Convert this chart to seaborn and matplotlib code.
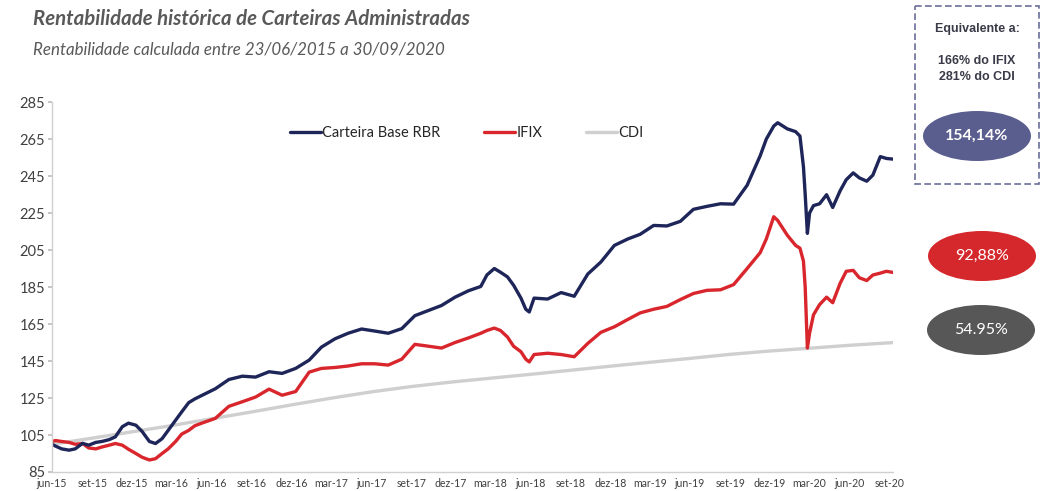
import matplotlib
matplotlib.use('Agg')
import matplotlib.pyplot as plt
from matplotlib.patches import Ellipse, Rectangle
import pandas as pd
import seaborn as sns

# dates shared by the portfolio and IFIX series
datas = ['2015-06-23', '2015-07-01', '2015-07-15', '2015-08-01', '2015-08-15',
         '2015-09-01', '2015-09-15', '2015-10-01', '2015-10-15', '2015-11-01',
         '2015-11-15', '2015-12-01', '2015-12-15', '2016-01-01', '2016-01-15',
         '2016-02-01', '2016-02-15', '2016-03-01', '2016-03-15', '2016-04-01',
         '2016-04-15', '2016-05-01', '2016-05-15', '2016-06-01', '2016-07-01',
         '2016-08-01', '2016-09-01', '2016-10-01', '2016-11-01', '2016-12-01',
         '2017-01-01', '2017-02-01', '2017-03-01', '2017-04-01', '2017-05-01',
         '2017-06-01', '2017-07-01', '2017-08-01', '2017-09-01', '2017-10-01',
         '2017-11-01', '2017-12-01', '2018-01-01', '2018-02-01', '2018-03-01',
         '2018-03-15', '2018-04-01', '2018-04-15', '2018-05-01', '2018-05-15',
         '2018-06-01', '2018-06-12', '2018-06-20', '2018-07-01', '2018-08-01',
         '2018-09-01', '2018-10-01', '2018-11-01', '2018-12-01', '2019-01-01',
         '2019-02-01', '2019-03-01', '2019-04-01', '2019-05-01', '2019-06-01',
         '2019-07-01', '2019-08-01', '2019-09-01', '2019-10-01', '2019-11-01',
         '2019-12-01', '2019-12-15', '2020-01-01', '2020-01-10', '2020-02-01',
         '2020-02-20', '2020-03-01', '2020-03-09', '2020-03-13', '2020-03-18',
         '2020-03-23', '2020-04-01', '2020-04-15', '2020-05-01', '2020-05-15',
         '2020-06-01', '2020-06-15', '2020-07-01', '2020-07-15', '2020-08-01',
         '2020-08-15', '2020-09-01', '2020-09-15', '2020-09-30']

carteira = [100.0, 99.0, 97.5, 96.8, 97.5, 100.5, 99.5, 101.0, 101.5, 102.5,
            104.0, 109.5, 111.4, 110.3, 107.0, 101.5, 100.4, 103.0, 107.5, 113.0,
            117.5, 122.5, 124.5, 126.5, 130.0, 135.0, 136.8, 136.3, 139.2, 138.3,
            141.0, 145.5, 152.5, 157.0, 160.0, 162.3, 161.2, 160.0, 162.5, 169.5,
            172.3, 175.0, 179.5, 183.0, 185.3, 191.5, 195.0, 193.0, 190.5, 186.0,
            179.0, 173.0, 171.5, 179.0, 178.5, 182.0, 180.0, 192.0, 198.5, 207.5,
            211.0, 213.5, 218.3, 218.0, 220.5, 227.0, 228.6, 230.0, 229.8, 240.0,
            256.0, 265.0, 272.0, 273.8, 270.5, 269.0, 266.6, 250.0, 235.0, 214.0,
            225.0, 229.0, 230.0, 234.9, 228.0, 237.0, 243.0, 246.7, 244.0, 242.2,
            245.5, 255.5, 254.5, 254.14]

ifix = [101.5, 102.0, 101.5, 101.0, 100.0, 100.4, 98.0, 97.5, 98.5, 99.5,
        100.4, 99.5, 97.3, 95.0, 93.0, 91.5, 92.2, 95.0, 97.5, 101.5,
        105.5, 107.5, 110.0, 111.5, 114.0, 120.5, 123.0, 125.5, 129.8, 126.5,
        128.5, 139.0, 141.0, 141.5, 142.3, 143.5, 143.5, 142.8, 146.0, 154.0,
        153.0, 152.0, 155.0, 157.5, 160.0, 161.5, 162.8, 161.5, 158.0, 153.0,
        150.0, 146.0, 144.5, 148.5, 149.2, 148.5, 147.3, 154.5, 160.5, 163.5,
        167.5, 171.0, 173.0, 174.5, 178.2, 181.5, 183.2, 183.5, 186.3, 195.0,
        203.6, 211.0, 223.0, 221.0, 213.0, 207.5, 206.0, 199.0, 185.0, 152.0,
        160.0, 170.0, 175.5, 179.5, 176.5, 187.0, 193.5, 194.0, 190.0, 188.5,
        191.5, 192.5, 193.5, 192.88]

# CDI is smooth, read quarterly
datas_cdi = ['2015-06-23', '2015-09-23', '2015-12-23', '2016-03-23', '2016-06-23',
             '2016-09-23', '2016-12-23', '2017-03-23', '2017-06-23', '2017-09-23',
             '2017-12-23', '2018-03-23', '2018-06-23', '2018-09-23', '2018-12-23',
             '2019-03-23', '2019-06-23', '2019-09-23', '2019-12-23', '2020-03-23',
             '2020-06-23', '2020-09-30']
cdi = [100.0, 103.3, 106.7, 110.1, 113.8, 117.5, 121.3, 124.9, 128.3, 131.2,
       133.6, 135.7, 137.8, 140.0, 142.2, 144.3, 146.4, 148.6, 150.4, 151.9,
       153.5, 154.95]

series = ['Carteira Base RBR', 'IFIX', 'CDI']
cores = ['#1E2659', '#D8262C', '#CFCFCF']
rotulos_x = ['jun-15', 'set-15', 'dez-15', 'mar-16', 'jun-16', 'set-16', 'dez-16',
             'mar-17', 'jun-17', 'set-17', 'dez-17', 'mar-18', 'jun-18', 'set-18',
             'dez-18', 'mar-19', 'jun-19', 'set-19', 'dez-19', 'mar-20', 'jun-20',
             'set-20']
retornos = ['154,14%', '92,88%', '54.95%']
cores_elipse = ['#5A5E8F', '#D4282C', '#575757']

if __name__ == '__main__':
    sns.set_theme(style='white')
    plt.rcParams['font.family'] = ['Lato', 'DejaVu Sans']

    # long-form table
    df = pd.concat([
        pd.DataFrame({'data': pd.to_datetime(datas), 'valor': carteira, 'serie': series[0]}),
        pd.DataFrame({'data': pd.to_datetime(datas), 'valor': ifix, 'serie': series[1]}),
        pd.DataFrame({'data': pd.to_datetime(datas_cdi), 'valor': cdi, 'serie': series[2]}),
    ], ignore_index=True)

    fig = plt.figure(figsize=(10.45, 4.91), dpi=100)
    ax = fig.add_axes([0.0498, 0.0387, 0.8047, 0.7535])

    sns.lineplot(data=df, x='data', y='valor', hue='serie', hue_order=series[::-1],
                 palette=dict(zip(series, cores)), linewidth=2.4, ax=ax)

    # legend in series order
    handles, labels = ax.get_legend_handles_labels()
    order = [labels.index(s) for s in series]
    ax.legend([handles[i] for i in order], series, loc='center',
              bbox_to_anchor=(0.493, 0.915), ncol=3, frameon=False,
              handlelength=2.1, handletextpad=0.1, columnspacing=3.0,
              fontsize=10.5)

    # axes
    ax.set_ylim(85, 285)
    ax.set_yticks(range(85, 286, 20))
    ax.set_xlim(pd.Timestamp('2015-06-23'), pd.Timestamp('2020-09-30'))
    ticks = pd.date_range('2015-06-23', periods=len(rotulos_x),
                          freq=pd.DateOffset(months=3))
    ax.set_xticks(ticks)
    ax.set_xticklabels(rotulos_x, fontsize=7.6, color='#404040')
    ax.tick_params(axis='y', labelsize=10.5, labelcolor='#404040', length=3,
                   color='#BFBFBF', left=True, pad=2)
    ax.tick_params(axis='x', length=0, pad=4)
    ax.set_xlabel('')
    ax.set_ylabel('')
    sns.despine(ax=ax)
    for s in ['left', 'bottom']:
        ax.spines[s].set_color('#D0D0D0')
        ax.spines[s].set_linewidth(1)

    # title
    fig.text(0.032, 0.962, 'Rentabilidade histórica de Carteiras Administradas',
             fontsize=14.7, fontweight='bold', fontstyle='italic', color='#595959',
             va='center')
    fig.text(0.032, 0.900, 'Rentabilidade calculada entre 23/06/2015 a 30/09/2020',
             fontsize=12.2, fontstyle='italic', color='#595959', va='center')

    # side panel drawn in pixel coordinates
    ov = fig.add_axes([0, 0, 1, 1])
    ov.set_xlim(0, 1045)
    ov.set_ylim(491, 0)
    ov.axis('off')
    ov.patch.set_alpha(0)

    ov.add_patch(Rectangle((915, 6), 124, 178, fill=False, edgecolor='#6A6E98',
                           linewidth=1.2, linestyle=(0, (4, 2))))
    fam = ['Liberation Sans', 'DejaVu Sans']
    ov.text(977, 29, 'Equivalente a:', ha='center', va='center', fontsize=9,
            fontweight='bold', color='#3A3A48', family=fam)
    ov.text(977, 61, '166% do IFIX', ha='center', va='center', fontsize=9,
            fontweight='bold', color='#3A3A48', family=fam)
    ov.text(977, 77, '281% do CDI', ha='center', va='center', fontsize=9,
            fontweight='bold', color='#3A3A48', family=fam)

    centros = [(977, 136), (982, 256), (981, 330)]
    for i, (txt, cor) in enumerate(zip(retornos, cores_elipse)):
        ov.add_patch(Ellipse(centros[i], 108, 50, facecolor=cor,
                             edgecolor='none'))
        ov.text(centros[i][0], centros[i][1], txt, ha='center', va='center',
                fontsize=11.5, color='white',
                fontweight='bold' if i == 0 else 'normal')

    fig.savefig('out.png', dpi=100, facecolor='white')
